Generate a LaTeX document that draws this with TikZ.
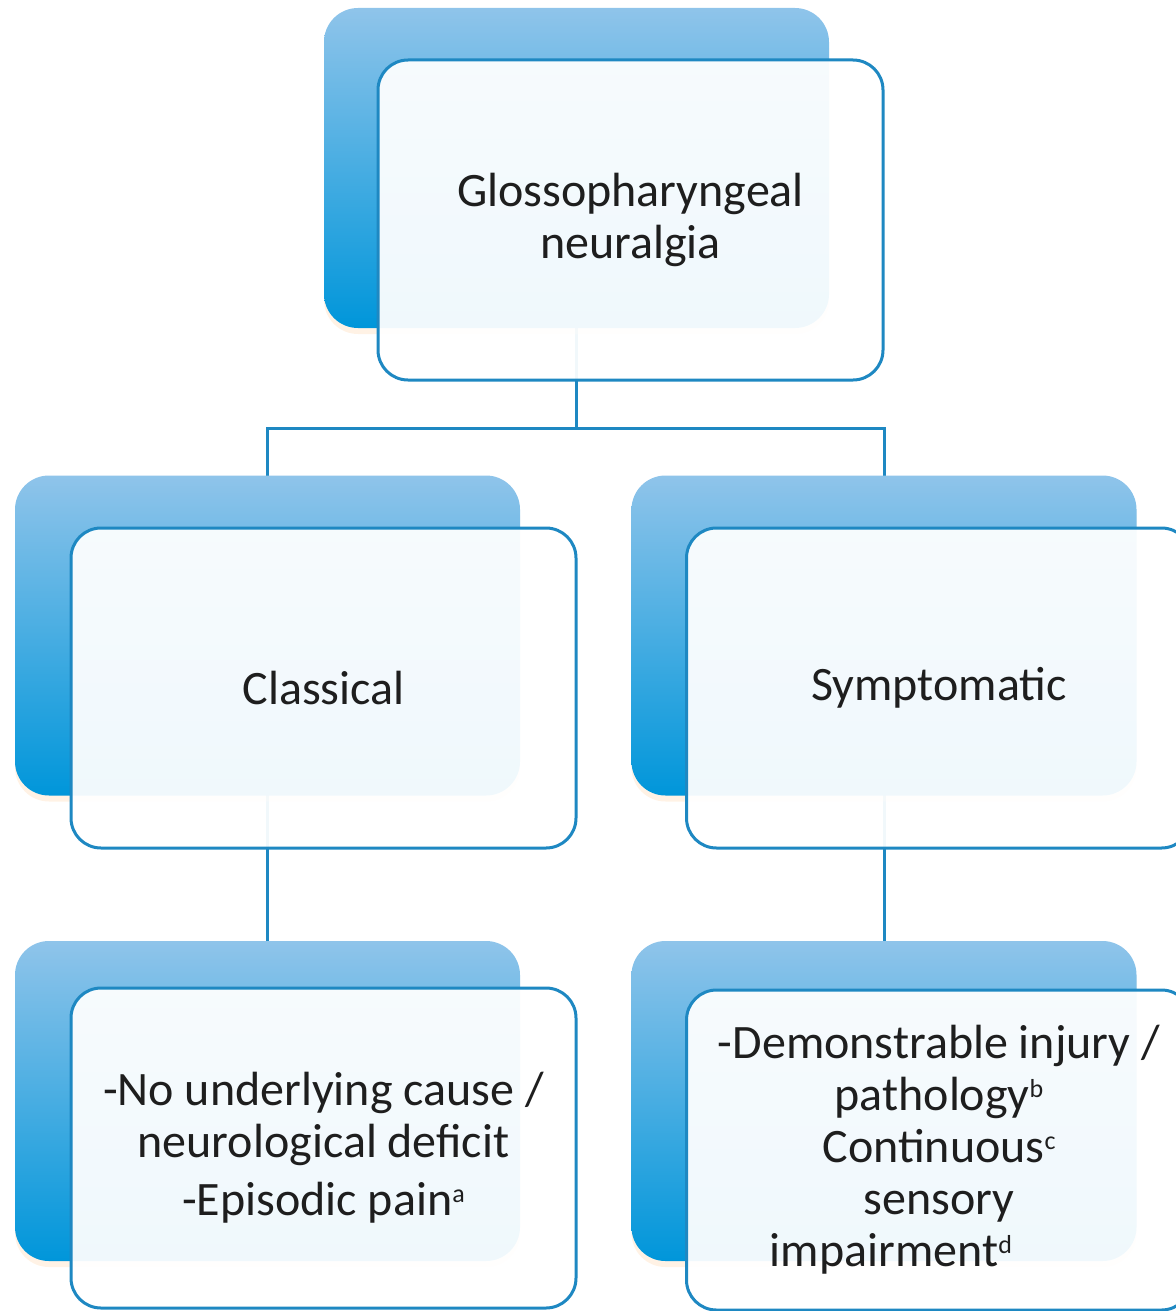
\documentclass[tikz,border=0pt]{standalone}
\usepackage{fontspec}
\setmainfont{Carlito}
\usepackage{xcolor}
\usepackage{tikz}
\usetikzlibrary{positioning,calc,backgrounds,shadows}
\definecolor{BackTop}{RGB}{143,196,234}
\definecolor{BackMid}{RGB}{118,186,232}
\definecolor{BackBot}{RGB}{0,150,218}
\definecolor{EdgeBlue}{RGB}{30,136,194}
\definecolor{TextGray}{RGB}{30,30,30}
\newcommand\supmark[1]{\raisebox{0.6ex}{\fontsize{13}{13}\selectfont #1}}

\begin{document}
\begin{tikzpicture}[x=0.5pt, y=-0.5pt,
    % Style khung sau (gradient xanh)
    backbox/.style={rectangle, rounded corners=17pt, minimum width=252.5pt, minimum height=160pt,
        top color=BackTop, middle color=BackMid, bottom color=BackBot, draw=none,
        drop shadow={shadow xshift=0pt, shadow yshift=-3pt, fill=orange!40, opacity=0.25}},
    % Style khung truoc (trang, vien xanh)
    frontbox/.style={rectangle, rounded corners=15pt, minimum width=252.5pt, minimum height=160pt,
        draw=EdgeBlue, line width=1.5pt, fill=white, fill opacity=0.94, text opacity=1,
        text=TextGray, align=center, font=\fontsize{24}{26}\selectfont},
    % Style duong noi
    link/.style={draw=EdgeBlue, line width=1.5pt}
]
    \useasboundingbox (0,0) rectangle (1176,1311);

    % --- KHUNG SAU ---
    \node[backbox] (gnB) at (576.5, 168) {};
    \node[backbox] (clB) at (267.5, 635.5) {};
    \node[backbox] (syB) at (884, 635.5) {};
    \node[backbox] (clDetB) at (267.5, 1101) {};
    \node[backbox] (syDetB) at (884, 1101) {};

    % --- KHUNG TRUOC ---
    \node[frontbox] (gnF) at (630.5, 220) {Glossopharyngeal\\neuralgia};
    \node[frontbox] (clF) at (323.5, 688) {Classical};
    \node[frontbox] (syF) at (939, 688) {Symptomatic};
    \node[frontbox] (clDetF) at (323.5, 1148)
        {-No underlying cause /\\neurological deficit\\[3pt]-Episodic pain\supmark{a}};
    \node[frontbox] (syDetF) at (939, 1150)
        {-Demonstrable injury /\\
         pathology\supmark{b}\hspace*{21pt}\\
         Continuous\supmark{c}\hspace*{37pt}\\
         sensory\\
         impairment\supmark{d}\hspace*{48pt}};

    % --- DUONG NOI ---
    \coordinate (fork) at ($(gnF.south)!0.5!(clB.north)$);
    \begin{scope}[on background layer]
        \draw[link] (gnB.center) -- (gnB.center |- fork) -| (clB.center);
        \draw[link] (gnB.center |- fork) -| (syB.center);
        \draw[link] (clB.center) -- (clDetB.center);
        \draw[link] (syB.center) -- (syDetB.center);
    \end{scope}
\end{tikzpicture}
\end{document}
